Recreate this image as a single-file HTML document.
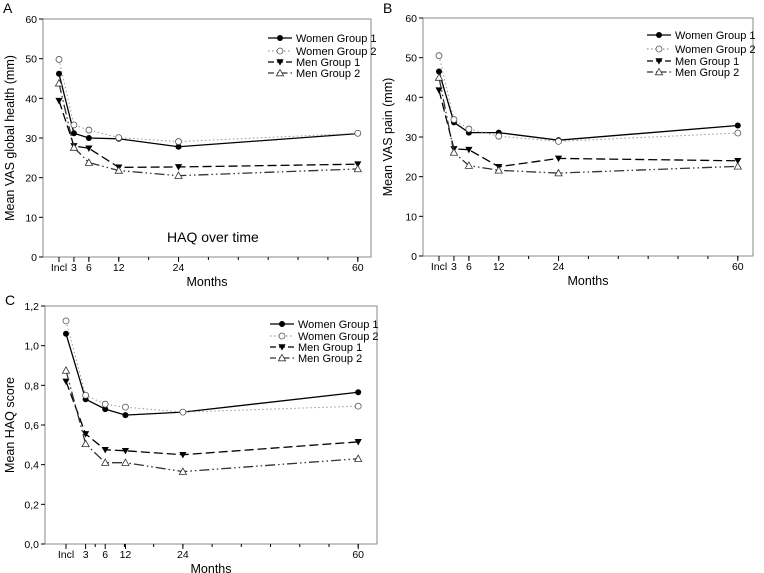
<!DOCTYPE html>
<html><head><meta charset="utf-8"><style>
html,body{margin:0;padding:0;background:#fff;}
svg{display:block;font-family:"Liberation Sans",Arial,sans-serif;}
</style></head><body>
<svg id="fig" width="764" height="573" viewBox="0 0 764 573"></svg>
<script>
const months=[0,3,6,12,24,60];
const xTickLabels=["Incl","3","6","12","24","60"];
const seriesNames=["Women Group 1","Women Group 2","Men Group 1","Men Group 2"];
const aWG1=[46.2,31.2,30,29.8,27.8,31.1];
const aWG2=[49.8,33.3,32,30.1,29.1,31.2];
const aMG1=[39.4,28,27.4,22.6,22.7,23.4];
const aMG2=[43.8,27.6,23.8,21.8,20.5,22.2];
const bWG1=[46.5,33.7,31.1,31.1,29.2,32.9];
const bWG2=[50.5,34.4,32,30.2,28.9,31];
const bMG1=[41.8,27,26.8,22.5,24.6,24];
const bMG2=[45,26.1,22.8,21.6,20.9,22.6];
const cWG1=[1.06,0.73,0.68,0.65,0.665,0.765];
const cWG2=[1.125,0.75,0.705,0.69,0.665,0.695];
const cMG1=[0.82,0.555,0.475,0.47,0.45,0.515];
const cMG2=[0.875,0.505,0.41,0.41,0.365,0.43];
const abTicks=[0,10,20,30,40,50,60];
const cTicks=["0,0","0,2","0,4","0,6","0,8","1,0","1,2"];
const cTickVals=[0,0.2,0.4,0.6,0.8,1.0,1.2];

const NS="http://www.w3.org/2000/svg";
const svg=document.getElementById('fig');
function mk(tag,attrs,parent,txt){const e=document.createElementNS(NS,tag);for(const k in attrs)e.setAttribute(k,attrs[k]);if(txt!==undefined)e.textContent=txt;(parent||svg).appendChild(e);return e;}

const styles=[
 {stroke:"#000",dash:"",marker:"fc"},
 {stroke:"#999",dash:"1.5,2.5",marker:"oc"},
 {stroke:"#000",dash:"9,4",marker:"ft"},
 {stroke:"#333",dash:"10,3,1.5,3,1.5,3",marker:"ot"}
];
function marker(g,type,x,y){
 const r=3;
 if(type==="fc")mk('circle',{cx:x,cy:y,r:r,fill:"#000"},g);
 else if(type==="oc")mk('circle',{cx:x,cy:y,r:r,fill:"#fff",stroke:"#555","stroke-width":0.8},g);
 else if(type==="ft")mk('polygon',{points:`${x-3.6},${y-2.8} ${x+3.6},${y-2.8} ${x},${y+3.6}`,fill:"#000"},g);
 else mk('polygon',{points:`${x-3.6},${y+2.8} ${x+3.6},${y+2.8} ${x},${y-3.6}`,fill:"#fff",stroke:"#333","stroke-width":0.8},g);
}

function panel(p){
 const g=mk('g',{});
 
 
 const xs=m=>p.x0+p.kx*m;
 const ys=v=>p.bottom-(v/p.ymax)*(p.bottom-p.top);
 mk('text',{x:p.lx,y:p.ly,"font-size":14},g,p.letter);
 const box=mk('rect',{x:p.left,y:p.top,width:p.right-p.left,height:p.bottom-p.top,fill:"none",stroke:"#888","stroke-width":1},g);
 
 
 p.yVals.forEach((v,i)=>{
  const y=ys(v);
  mk('line',{x1:p.left-4,x2:p.left,y1:y,y2:y,stroke:"#000"},g);
  const t=mk('text',{x:p.left-6,y:y+4,"font-size":10.5,"text-anchor":"end"},g,p.yLabels[i]);
  
  
 });
 for(let m=6;m<=60;m+=6){const x=xs(m);mk('line',{x1:x,x2:x,y1:p.bottom,y2:p.bottom+3,stroke:"#000"},g);}
 months.forEach((m,i)=>{
  const x=xs(m)+(p.xadj?p.xadj[i]:0);
  mk('line',{x1:x,x2:x,y1:p.bottom,y2:p.bottom+5,stroke:"#000"},g);
  const t=mk('text',{x:x,y:p.bottom+14,"font-size":10.5,"text-anchor":"middle"},g,xTickLabels[i]);
  
  
 });
 const xt=mk('text',{x:(p.left+p.right)/2,y:p.bottom+29,"font-size":12.5,"text-anchor":"middle"},g,"Months");
 
 
 const ym=(p.top+p.bottom)/2;
 const yt=mk('text',{x:p.ytx,y:ym,"font-size":12.5,"text-anchor":"middle",transform:`rotate(-90 ${p.ytx} ${ym})`},g,p.ytitle);
 
 
 p.data.forEach((d,si)=>{
  const s=styles[si];
  const pts=d.map((v,i)=>[xs(months[i])+(p.xadj?p.xadj[i]:0),ys(v)]);
  const pl=mk('polyline',{points:pts.map(q=>q.join(',')).join(' '),fill:"none",stroke:s.stroke,"stroke-width":s.dash==="1.5,2.5"?1:1.3,"stroke-dasharray":s.dash},g);
  
  
  pts.forEach(q=>marker(g,s.marker,q[0],q[1]));
 });
 seriesNames.forEach((n,i)=>{
  const y=p.legY[i];const s=styles[i];
  const lg=mk('g',{},g);
  
  
  mk('line',{x1:p.legX,x2:p.legX+24,y1:y,y2:y,stroke:s.stroke,"stroke-width":1.3,"stroke-dasharray":s.dash==="1.5,2.5"?"1.5,2.5":(i===3?"6,3,1.5,3":(i===2?"6,3":""))},lg);
  marker(lg,s.marker,p.legX+12,y);
  mk('text',{x:p.legX+28,y:y+4,"font-size":11},lg,n);
 });
 if(p.note){const t=mk('text',{x:p.note[0],y:p.note[1],"font-size":14},g,"HAQ over time");}
}

panel({name:"panel-a-global-health",letter:"A",lx:3,ly:13,left:43,right:371,top:19,bottom:257,x0:59,kx:4.98,ymax:60,
 yVals:abTicks,yLabels:abTicks.map(String),ytitle:"Mean VAS global health (mm)",ytx:14,
 data:[aWG1,aWG2,aMG1,aMG2],legX:268,legY:[38,51,62,73],note:[167,242]});
panel({name:"panel-b-pain",letter:"B",lx:383,ly:13,left:423,right:753,top:18,bottom:256,x0:439,kx:4.98,ymax:60,
 yVals:abTicks,yLabels:abTicks.map(String),ytitle:"Mean VAS pain (mm)",ytx:392,
 data:[bWG1,bWG2,bMG1,bMG2],legX:647,legY:[35,49,61,72]});
panel({name:"panel-c-haq",letter:"C",lx:5,ly:305,left:45,right:377,top:306,bottom:544,x0:66,kx:4.87,ymax:1.2,
 yVals:cTickVals,yLabels:cTicks,ytitle:"Mean HAQ score",ytx:14,xadj:[0,5,10,1,0,0],
 data:[cWG1,cWG2,cMG1,cMG2],legX:270,legY:[324,336,347,358]});
</script>
</body></html>
